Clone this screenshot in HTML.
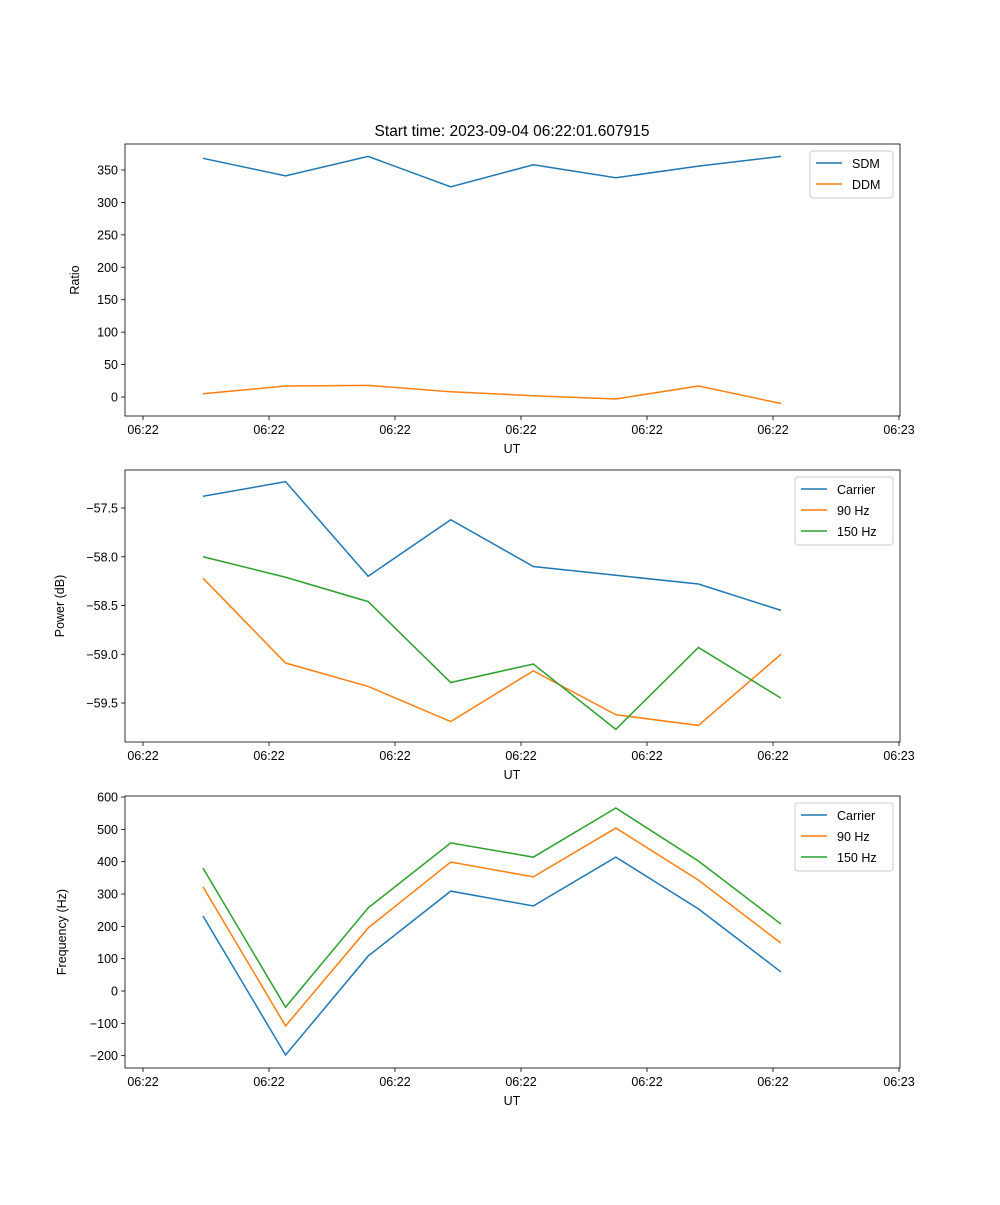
<!DOCTYPE html>
<html><head><meta charset="utf-8"><style>
body{margin:0;background:#fff}
svg{font-family:"Liberation Sans","DejaVu Sans",sans-serif}
</style></head><body>
<svg id="fig" width="1000" height="1200" xmlns="http://www.w3.org/2000/svg">
<rect width="1000" height="1200" fill="#fff"/>
<text x="512" y="136" font-size="15.5" text-anchor="middle">Start time: 2023-09-04 06:22:01.607915</text>
</svg>
<script>
const xTickLabels=["06:22","06:22","06:22","06:22","06:22","06:22","06:23"];
const sdm=[368,341,371,324,358,338,356,371];
const ddm=[5,17,18,8,2,-3,17,-10];
const powCarrier=[-57.38,-57.23,-58.2,-57.62,-58.1,-58.19,-58.28,-58.55];
const pow90=[-58.22,-59.09,-59.33,-59.69,-59.17,-59.62,-59.73,-59.0];
const pow150=[-58.0,-58.21,-58.46,-59.29,-59.1,-59.77,-58.93,-59.45];
const freqCarrier=[232,-198,108,309,263,414,254,59];
const freq90=[322,-108,195,399,353,504,343,148];
const freq150=[380,-50,257,458,414,566,402,207];
const ticks1=[0,50,100,150,200,250,300,350];
const ticks2=[-57.5,-58.0,-58.5,-59.0,-59.5];
const ticks3=[-200,-100,0,100,200,300,400,500,600];
const C=["#1f77b4","#ff7f0e","#2ca02c"];
const svg=document.getElementById('fig');
const NS="http://www.w3.org/2000/svg";
function mk(tag,attrs,parent){const e=document.createElementNS(NS,tag);for(const k in attrs)e.setAttribute(k,attrs[k]);(parent||svg).appendChild(e);return e;}
function xPos(i){return 203+i*82.57;}
function fmt(v,dec){let s=v.toFixed(dec);return s.replace('-','\u2212');}
function panel(name,top,yFn,ticks,dec,ylabel,ylabelX,series,names,legend){
  const g=mk('g',{});
  
  
  const L=125,R=900,B=top+272;
  xTickLabels.forEach((t,k)=>{const x=143+k*126;
    mk('line',{x1:x,x2:x,y1:B,y2:B+4,stroke:'#000','stroke-width':0.8},g);
    const tx=mk('text',{x:x,y:B+18,'font-size':12.5,'text-anchor':'middle'},g);tx.textContent=t;
    
    
  });
  ticks.forEach(v=>{const y=yFn(v);
    mk('line',{x1:L-4,x2:L,y1:y,y2:y,stroke:'#000','stroke-width':0.8},g);
    const tx=mk('text',{x:L-7,y:y+4.5,'font-size':12.5,'text-anchor':'end'},g);tx.textContent=fmt(v,dec);
    
    
  });
  const xl=mk('text',{x:512,y:B+37,'font-size':12.5,'text-anchor':'middle'},g);xl.textContent='UT';
  
  
  const cy=top+136;
  const yl=mk('text',{x:ylabelX,y:cy,'font-size':12.5,'text-anchor':'middle',transform:`rotate(-90 ${ylabelX} ${cy})`},g);yl.textContent=ylabel;
  
  
  series.forEach((s,j)=>{
    const p=mk('polyline',{points:s.map((v,i)=>xPos(i)+','+yFn(v)).join(' '),fill:'none',stroke:C[j],'stroke-width':1.5},g);
    
    
  });
  mk('rect',{x:L,y:top,width:R-L,height:272,fill:'none',stroke:'#000','stroke-width':0.8},g);
  const lg=mk('g',{},g);
  
  
  mk('rect',{x:legend[0],y:top+7,width:893-legend[0],height:names.length*21+5,rx:3,fill:'#fff',stroke:'#ccc'},lg);
  names.forEach((n,j)=>{const y=top+19+j*21;
    mk('line',{x1:legend[0]+6,x2:legend[0]+32,y1:y,y2:y,stroke:C[j],'stroke-width':1.5},lg);
    const t=mk('text',{x:legend[0]+42,y:y+5,'font-size':12.5},lg);t.textContent=n;
    
    
  });
}
panel('ratio',144,v=>397-v*0.6486,ticks1,0,'Ratio',79,[sdm,ddm],['SDM','DDM'],[810]);
panel('power',470,v=>508+(-57.5-v)*97.5,ticks2,1,'Power (dB)',64,[powCarrier,pow90,pow150],['Carrier','90 Hz','150 Hz'],[795]);
panel('frequency',796,v=>991-v*0.3233,ticks3,0,'Frequency (Hz)',66,[freqCarrier,freq90,freq150],['Carrier','90 Hz','150 Hz'],[795]);
</script>
</body></html>
